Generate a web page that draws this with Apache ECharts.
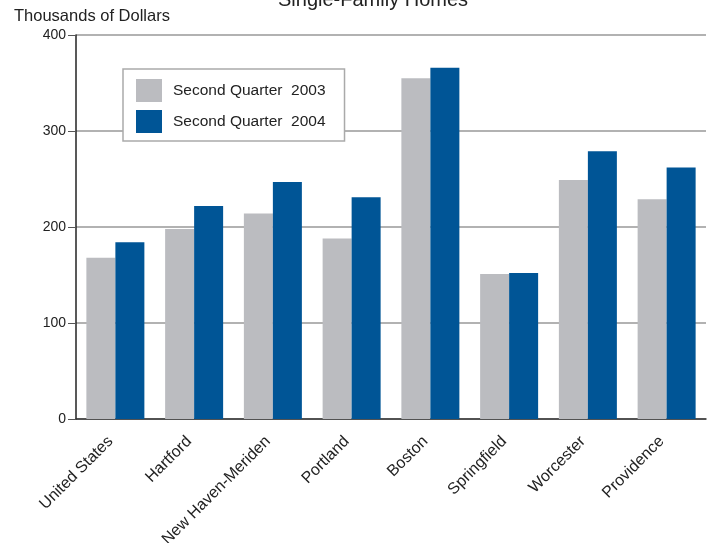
<!DOCTYPE html>
<html>
<head>
<meta charset="utf-8">
<script src="https://cdn.jsdelivr.net/npm/echarts@6/dist/echarts.min.js"></script>
<style>
  html, body { margin: 0; padding: 0; background: #fff; }
  #main { width: 708px; height: 543px; }
</style>
</head>
<body>
<div id="main"></div>
<script>
var cities = ['United States', 'Hartford', 'New Haven-Meriden', 'Portland', 'Boston', 'Springfield', 'Worcester', 'Providence'];
var q2003 = [168, 198, 214, 188, 355, 151, 249, 229];
var q2004 = [184, 222, 247, 231, 366, 152, 279, 262];
var yTicks = [0, 100, 200, 300, 400];

var chart = echarts.init(document.getElementById('main'), null, { renderer: 'canvas' });

var option = {
  backgroundColor: '#fff',
  animation: false,
  textStyle: { fontFamily: 'Liberation Sans, Arial, sans-serif' },
  title: [{
    text: 'Single-Family Homes',
    left: 278,
    top: -10,
    padding: 0,
    textStyle: { fontSize: 20, fontWeight: 'normal', color: '#222' }
  }, {
    text: 'Thousands of Dollars',
    left: 14,
    top: 8,
    padding: 0,
    textStyle: { fontSize: 16.5, fontWeight: 'normal', color: '#222' }
  }],
  legend: {
    orient: 'vertical',
    left: 123,
    top: 69,
    itemWidth: 26,
    itemHeight: 23,
    itemGap: 8,
    padding: [10, 19, 8, 13],
    backgroundColor: '#fff',
    borderColor: '#aaa',
    borderWidth: 1.5,
    borderRadius: 0,
    data: ['Second Quarter  2003', 'Second Quarter  2004'],
    textStyle: { fontSize: 15.5, color: '#222', padding: [0, 0, 0, 6] },
    icon: 'rect'
  },
  grid: { left: 76, right: 2, top: 35, bottom: 124, containLabel: false, outerBoundsMode: 'none' },
  xAxis: {
    type: 'category',
    data: cities,
    axisLine: { lineStyle: { color: '#333', width: 1.5 } },
    axisTick: { show: false },
    axisLabel: { rotate: 45, fontSize: 16, color: '#222', margin: 15, padding: [0, 7, 0, 0], interval: 0 }
  },
  yAxis: {
    type: 'value',
    min: yTicks[0],
    max: yTicks[yTicks.length - 1],
    interval: 100,
    axisLine: { show: true, lineStyle: { color: '#222', width: 1.5 } },
    axisTick: { show: true, length: 8, lineStyle: { color: '#555' } },
    axisLabel: { fontSize: 14, color: '#222', margin: 10 },
    splitLine: { lineStyle: { color: '#999', width: 1.5 } }
  },
  series: [{
    name: 'Second Quarter  2003',
    type: 'bar',
    data: q2003,
    barWidth: 29,
    barGap: '0%',
    itemStyle: { color: '#bbbcc0' }
  }, {
    name: 'Second Quarter  2004',
    type: 'bar',
    data: q2004,
    barWidth: 29,
    itemStyle: { color: '#005596' }
  }]
};

chart.setOption(option);
</script>
</body>
</html>
